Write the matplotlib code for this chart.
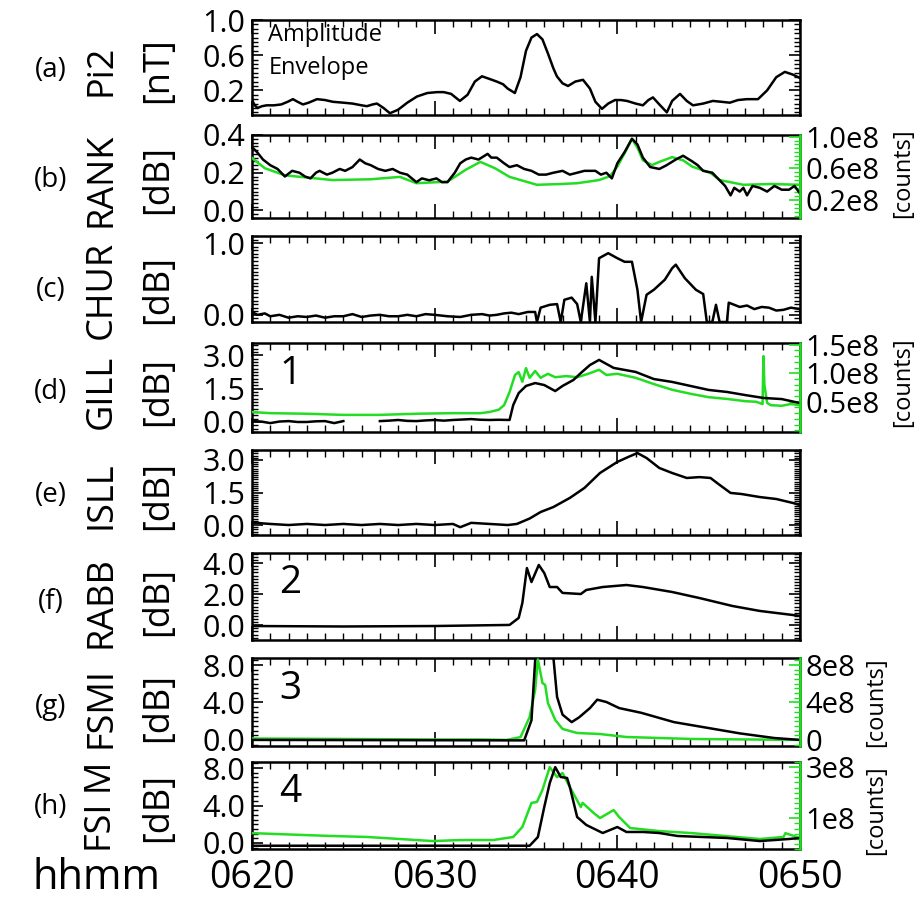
import numpy as np
import matplotlib
matplotlib.use("Agg")
from matplotlib import pyplot as plt
from matplotlib.ticker import FixedLocator, MultipleLocator, NullFormatter, FixedFormatter

plt.rcParams['font.family'] = ['Open Sans', 'DejaVu Sans']

GREEN = '#22dd22'

# time in minutes after 06:20
# (a) Pi2 amplitude envelope [nT]
a_t = [0, 0.15, 0.3, 0.55, 0.8, 1.2, 1.6, 1.95, 2.24, 2.5, 2.79, 3.1, 3.56, 4.0, 4.43, 5.0, 5.5,
       6.0, 6.29, 6.6, 6.84, 7.2, 7.55, 8.0, 8.5, 9.03, 9.6, 10.13, 10.5, 10.9, 11.38, 11.8, 12.2,
       12.59, 13.0, 13.4, 13.74, 14.0, 14.39, 14.7, 15.0, 15.3, 15.6, 15.9, 16.2, 16.5, 16.69, 17.0,
       17.3, 17.7, 18.12, 18.5, 18.8, 19.16, 19.5, 19.87, 20.2, 20.53, 21.0, 21.4, 21.7, 21.95, 22.3,
       22.71, 23.0, 23.43, 23.8, 24.14, 24.7, 25.23, 25.7, 26.16, 26.6, 27.09, 27.7, 28.2, 28.7,
       29.17, 29.6, 30]
a_v = [0.09, 0.03, 0.0, 0.02, 0.03, 0.03, 0.04, 0.07, 0.10, 0.07, 0.04, 0.06, 0.10, 0.09, 0.07,
       0.06, 0.05, 0.03, 0.02, 0.04, 0.05, 0.0, -0.06, -0.02, 0.06, 0.13, 0.17, 0.18, 0.18, 0.16,
       0.08, 0.15, 0.30, 0.36, 0.33, 0.30, 0.27, 0.22, 0.17, 0.35, 0.65, 0.80, 0.84, 0.78, 0.62,
       0.45, 0.36, 0.28, 0.25, 0.30, 0.32, 0.22, 0.07, -0.01, 0.05, 0.09, 0.09, 0.08, 0.05, 0.03,
       0.09, 0.12, 0.04, -0.05, 0.08, 0.16, 0.08, 0.03, 0.05, 0.08, 0.07, 0.06, 0.09, 0.10, 0.10,
       0.20, 0.35, 0.41, 0.38, 0.34]

# (b) RANK riometer [dB] and counts [1e8]
b_t = [0, 0.27, 0.6, 1.0, 1.4, 1.8, 2.2, 2.6, 2.9, 3.2, 3.5, 3.7, 4.1, 4.4, 4.8, 5.1, 5.5, 5.9,
       6.2, 6.5, 6.9, 7.3, 7.7, 8.1, 8.5, 9.0, 9.3, 9.7, 10.1, 10.4, 10.7, 11.1, 11.4, 11.7, 12.0,
       12.4, 12.9, 13.1, 13.4, 13.8, 14.1, 14.5, 14.9, 15.3, 15.7, 16.1, 16.5, 17.0, 17.4, 17.8,
       18.2, 18.8, 19.1, 19.4, 19.7, 20.0, 20.4, 20.8, 21.1, 21.4, 21.8, 22.3, 22.7, 23.2, 23.6,
       24.1, 24.4, 24.7, 25.2, 25.6, 25.9, 26.2, 26.4, 26.7, 26.9, 27.1, 27.4, 27.8, 28.2, 28.6,
       29.0, 29.4, 29.7, 30]
b_v = [0.336, 0.31, 0.27, 0.24, 0.22, 0.18, 0.21, 0.20, 0.18, 0.17, 0.20, 0.21, 0.19, 0.20, 0.22,
       0.21, 0.23, 0.27, 0.25, 0.24, 0.22, 0.21, 0.22, 0.20, 0.19, 0.15, 0.17, 0.16, 0.17, 0.15,
       0.15, 0.20, 0.25, 0.27, 0.28, 0.27, 0.30, 0.28, 0.28, 0.25, 0.23, 0.24, 0.22, 0.21, 0.19,
       0.19, 0.20, 0.21, 0.19, 0.20, 0.21, 0.21, 0.19, 0.20, 0.17, 0.25, 0.31, 0.38, 0.35, 0.28,
       0.23, 0.22, 0.24, 0.27, 0.29, 0.26, 0.24, 0.21, 0.20, 0.16, 0.13, 0.08, 0.12, 0.10, 0.12,
       0.08, 0.13, 0.12, 0.10, 0.13, 0.11, 0.11, 0.13, 0.09]
bg_t = [0, 0.7, 1.8, 4.4, 6.5, 8.1, 9.0, 10.7, 11.7, 12.5, 13.3, 14.1, 15.6, 16.9, 17.8, 19.0,
        19.6, 20.0, 20.4, 20.8, 21.1, 21.4, 21.9, 22.3, 23.0, 23.6, 24.1, 25.1, 25.6, 26.9, 28.4, 30]
bg_c = [0.73, 0.60, 0.51, 0.45, 0.46, 0.49, 0.41, 0.43, 0.58, 0.68, 0.60, 0.49, 0.39, 0.40, 0.41, 0.45,
        0.50, 0.62, 0.79, 0.97, 0.86, 0.70, 0.64, 0.68, 0.74, 0.70, 0.62, 0.54, 0.45, 0.39, 0.40, 0.39]

# (c) CHUR riometer [dB]
c_t = [0, 0.3, 0.7, 1.0, 1.5, 2.0, 2.5, 3.0, 3.5, 4.0, 4.5, 5.0, 5.5, 6.0, 6.5, 7.0, 7.5, 8.0, 8.5,
       9.0, 9.5, 10.0, 10.7, 11.4, 12.0, 12.6, 13.0, 13.4, 13.8, 14.2, 14.6, 15.1, 15.5, 15.6, 15.8,
       16.3, 16.7, 16.9, 17.1, 17.5, 17.8, 18.0, 18.3, 18.5, 18.6, 18.8, 19.0, 19.5, 20.0, 20.4,
       20.8, 21.1, 21.3, 21.6, 22.0, 22.6, 23.0, 23.2, 23.7, 24.3, 24.7, 24.9, 25.2, 25.4, 25.6,
       26.0, 26.1, 26.7, 27.1, 27.5, 27.9, 28.3, 28.7, 29.1, 29.5, 30]
c_v = [0.04, 0.00, 0.02, -0.02, 0.00, -0.04, -0.02, -0.03, -0.01, -0.04, -0.02, -0.02, 0.01, -0.03,
       -0.01, 0.00, -0.02, -0.02, 0.00, -0.02, 0.01, 0.00, -0.02, -0.03, 0.00, 0.01, -0.01, 0.00, 0.02,
       0.03, 0.01, 0.04, 0.04, -0.10, 0.10, 0.14, 0.15, -0.10, 0.21, 0.24, 0.15, -0.10, 0.44, -0.10,
       0.53, -0.10, 0.79, 0.86, 0.79, 0.74, 0.74, 0.35, -0.10, 0.28, 0.35, 0.49, 0.65, 0.70, 0.51,
       0.35, 0.29, -0.10, -0.10, 0.14, -0.10, -0.10, 0.17, 0.11, 0.13, 0.08, 0.11, 0.10, 0.06, 0.07,
       0.10, 0.08]

# (d) GILL riometer [dB] (data gap 0625-0627) and counts [1e8]
d_t = [0, 0.5, 1.0, 1.5, 2.0, 2.5, 3.0, 3.5, 4.0, 4.5, 5.0, 6.0, 7.0, 7.5, 8.0, 8.5, 9.0, 9.5, 10.0,
       10.5, 11.0, 11.5, 12.0, 12.5, 13.0, 13.5, 14.1, 14.3, 14.6, 15.0, 15.5, 16.0, 16.6, 17.0, 17.6,
       18.0, 18.5, 19.0, 19.4, 19.8, 20.4, 21.0, 22.0, 23.0, 24.0, 25.0, 26.0, 27.0, 28.0, 29.0, 30.0]
d_v = [0.04, 0.02, -0.05, 0.02, 0.04, 0.00, 0.00, 0.03, 0.04, -0.05, 0.04, np.nan, 0.04, 0.06, 0.09,
       0.05, 0.04, 0.07, 0.09, 0.06, 0.09, 0.11, 0.13, 0.10, 0.09, 0.10, 0.09, 0.76, 1.30, 1.62, 1.75,
       1.66, 1.39, 1.62, 1.89, 2.20, 2.56, 2.79, 2.61, 2.43, 2.34, 2.25, 1.93, 1.80, 1.62, 1.44, 1.35,
       1.21, 1.08, 1.03, 0.85]
dg_t = [0, 1.0, 3.0, 5.0, 7.0, 9.0, 11.0, 12.5, 13.0, 13.5, 13.8, 14.1, 14.4, 14.6, 14.8, 15.0, 15.2,
        15.5, 15.8, 16.2, 16.6, 17.2, 17.8, 18.4, 19.0, 19.4, 20.0, 21.0, 22.0, 23.0, 24.0, 25.0,
        26.0, 27.0, 27.6, 27.95, 28.0, 28.05, 28.2, 28.4, 29.0, 29.5, 30]
dg_c = [0.32, 0.30, 0.29, 0.27, 0.27, 0.29, 0.30, 0.30, 0.32, 0.36, 0.44, 0.67, 0.97, 1.02, 0.85,
        1.09, 0.92, 1.04, 0.92, 0.99, 0.93, 0.95, 0.93, 0.99, 1.06, 0.97, 0.99, 0.92, 0.81, 0.71,
        0.64, 0.58, 0.55, 0.51, 0.50, 0.46, 1.30, 0.80, 0.48, 0.44, 0.43, 0.46, 0.44]

# (e) ISLL riometer [dB]
e_t = [0, 0.5, 1.0, 2.0, 3.0, 4.0, 5.0, 6.0, 7.0, 8.0, 9.0, 10.0, 11.0, 11.4, 12.0, 13.0, 14.0,
       14.5, 15.2, 15.8, 16.5, 17.4, 18.2, 19.05, 20.0, 20.6, 21.1, 21.6, 22.3, 23.0, 23.8, 24.5,
       25.1, 25.6, 26.2, 26.8, 27.8, 28.7, 29.6, 30]
e_v = [0.14, 0.08, 0.05, 0.00, 0.05, 0.00, 0.05, 0.00, 0.05, 0.00, 0.05, 0.00, 0.05, -0.10, 0.10,
       0.05, 0.00, 0.05, 0.30, 0.60, 0.83, 1.25, 1.71, 2.40, 2.91, 3.14, 3.32, 3.09, 2.63, 2.40,
       2.17, 2.21, 2.17, 1.85, 1.48, 1.43, 1.29, 1.20, 1.02, 0.92]

# (f) RABB riometer [dB]
f_t = [0, 5.0, 10.0, 14.1, 14.6, 14.8, 15.05, 15.3, 15.7, 16.0, 16.3, 16.7, 17.0, 18.0, 18.3,
       19.2, 20.5, 21.4, 23.0, 24.5, 26.3, 27.8, 29.6, 30]
f_v = [-0.05, -0.08, -0.05, 0.02, 0.47, 1.43, 3.68, 2.78, 3.88, 3.36, 2.46, 2.46, 2.08, 2.01, 2.27,
       2.46, 2.59, 2.46, 2.14, 1.75, 1.24, 0.92, 0.66, 0.60]

# (g) FSMI riometer [dB] and counts [1e8]
g_t = [0, 14.9, 15.3, 15.5, 15.7, 16.0, 16.3, 16.5, 16.7, 17.0, 17.5, 17.9, 18.5, 18.9, 19.4,
       20.1, 21.3, 23.1, 24.9, 26.7, 28.6, 30]
g_v = [0.0, -0.05, 2.1, 8.5, 15.0, 18.0, 14.0, 8.8, 4.6, 2.7, 1.9, 2.4, 3.4, 4.3, 4.05, 3.4, 2.9,
       1.9, 1.3, 0.7, 0.2, 0.0]
gg_t = [0, 5.0, 10.0, 12.5, 13.95, 14.7, 15.2, 15.5, 15.65, 15.9, 16.05, 16.2, 16.6, 17.0, 17.8,
        19.05, 20.5, 24.1, 30]
gg_c = [0.15, 0.10, 0.05, 0.05, 0.0, 0.3, 2.45, 5.33, 8.6, 6.08, 5.87, 3.94, 2.13, 1.17, 0.74,
        0.63, 0.31, 0.10, 0.0]

# (h) FSIM riometer [dB] and counts [1e8]
h_t = [0, 15.2, 15.65, 16.0, 16.3, 16.6, 16.9, 17.25, 17.4, 17.8, 18.3, 19.2, 20.0, 20.5, 21.4,
       22.3, 23.3, 26.0, 27.8, 29.4, 30]
h_v = [-0.3, -0.3, 0.63, 3.84, 6.4, 8.1, 7.05, 6.94, 5.98, 2.77, 1.92, 1.06, 1.7, 1.17, 1.17, 1.06,
       0.74, 0.53, 0.20, 0.42, 0.53]
hg_t = [0, 2.7, 4.3, 6.3, 9.9, 11.4, 13.2, 14.3, 14.8, 15.3, 15.6, 15.9, 16.3, 16.7, 17.0, 17.4,
        18.0, 18.1, 18.7, 19.05, 19.8, 20.1, 20.7, 22.3, 24.1, 27.8, 29.1, 29.2, 30]
hg_c = [0.42, 0.35, 0.31, 0.27, 0.11, 0.15, 0.15, 0.27, 0.66, 1.60, 1.64, 2.11, 3.0, 2.61, 2.77,
        2.22, 1.44, 1.60, 1.21, 1.01, 1.32, 1.05, 0.62, 0.50, 0.42, 0.19, 0.27, 0.42, 0.23]

W, H = 923, 900
fig = plt.figure(figsize=(W / 100, H / 100), dpi=100)

panels = [
    # tag, name, unit, top px, bottom px, ylim, ticks, labels, minor, label row y
    ('(a)', 'Pi2', '[nT]', 20, 115, (-0.08, 1.0), [0.2, 0.6, 1.0], ['0.2', '0.6', '1.0'], 0.05, 70),
    ('(b)', 'RANK', '[dB]', 135, 218, (-0.04, 0.4), [0.0, 0.2, 0.4], ['0.0', '0.2', '0.4'], 0.02, 180),
    ('(c)', 'CHUR', '[dB]', 236, 322, (-0.1, 1.1), [0.0, 1.0], ['0.0', '1.0'], 0.05, 290),
    ('(d)', 'GILL', '[dB]', 343, 432, (-0.45, 3.55), [0.0, 1.5, 3.0], ['0.0', '1.5', '3.0'], 0.15, 392),
    ('(e)', 'ISLL', '[dB]', 450, 535, (-0.46, 3.46), [0.0, 1.5, 3.0], ['0.0', '1.5', '3.0'], 0.1, 495),
    ('(f)', 'RABB', '[dB]', 553, 640, (-0.95, 4.65), [0.0, 2.0, 4.0], ['0.0', '2.0', '4.0'], 0.2, 602),
    ('(g)', 'FSMI', '[dB]', 658, 746, (-0.65, 8.75), [0.0, 4.0, 8.0], ['0.0', '4.0', '8.0'], 0.5, 707),
    ('(h)', 'FSI M', '[dB]', 762, 849, (-0.65, 8.65), [0.0, 4.0, 8.0], ['0.0', '4.0', '8.0'], 0.5, 807),
]

black = [(a_t, a_v), (b_t, b_v), (c_t, c_v), (d_t, d_v), (e_t, e_v), (f_t, f_v), (g_t, g_v), (h_t, h_v)]
greens = {
    1: (bg_t, bg_c, (-0.03, 1.02), [0.2, 0.6, 1.0], ['0.2e8', '0.6e8', '1.0e8'], 0.05, 903, 173),
    3: (dg_t, dg_c, (-0.03, 1.53), [0.5, 1.0, 1.5], ['0.5e8', '1.0e8', '1.5e8'], 0.1, 903, 382),
    6: (gg_t, gg_c, (-0.65, 8.75), [0.0, 4.0, 8.0], ['0', '4e8', '8e8'], 0.5, 876, 702),
    7: (hg_t, hg_c, (-0.2, 3.2), [1.0, 3.0], ['1e8', '3e8'], 0.2, 876, 810),
}
numbers = {3: '1', 5: '2', 6: '3', 7: '4'}

for i, (tag, name, unit, top, bot, ylim, ticks, labels, minor, yc) in enumerate(panels):
    ax = fig.add_axes([252 / W, 1 - bot / H, 548 / W, (bot - top) / H])
    t, v = black[i]
    ax.set_xlim(0, 30)
    ax.set_ylim(*ylim)
    for s in ax.spines.values():
        s.set_linewidth(1.8)
    ax.xaxis.set_major_locator(FixedLocator([0, 10, 20, 30]))
    ax.xaxis.set_minor_locator(MultipleLocator(1))
    ax.yaxis.set_major_locator(FixedLocator(ticks))
    ax.yaxis.set_major_formatter(FixedFormatter(labels))
    ax.yaxis.set_minor_locator(MultipleLocator(minor))
    ax.tick_params(axis='both', which='both', direction='in', top=True, right=(i not in greens))
    ax.tick_params(axis='x', which='major', length=10, width=1.2)
    ax.tick_params(axis='x', which='minor', length=5, width=1.0)
    ax.tick_params(axis='y', which='major', length=8, width=1.2, labelsize=22, pad=5)
    ax.tick_params(axis='y', which='minor', length=4, width=1.0)
    if i == len(panels) - 1:
        ax.set_xticklabels(['0620', '0630', '0640', '0650'])
        ax.tick_params(axis='x', which='major', labelsize=27, pad=7)
    else:
        ax.xaxis.set_major_formatter(NullFormatter())

    if i in greens:
        gt, gc, gl, gticks, glabels, gminor, lx, ly = greens[i]
        ax2 = ax.twinx()
        ax2.set_ylim(*gl)
        ax2.plot(gt, gc, color=GREEN, lw=1.8, clip_on=True)
        ax2.yaxis.set_major_locator(FixedLocator(gticks))
        ax2.yaxis.set_major_formatter(FixedFormatter(glabels))
        ax2.yaxis.set_minor_locator(MultipleLocator(gminor))
        ax2.tick_params(axis='y', which='both', direction='in', color=GREEN)
        ax2.tick_params(axis='y', which='major', length=8, width=1.2, labelsize=21, pad=4)
        ax2.tick_params(axis='y', which='minor', length=4, width=1.0)
        for s in ax2.spines.values():
            s.set_visible(False)
        ax2.spines['right'].set_visible(True)
        ax2.spines['right'].set_color(GREEN)
        ax2.spines['right'].set_linewidth(1.8)
        fig.text(lx / W, 1 - ly / H, '[counts]', rotation=90, ha='center', va='center', fontsize=17)
        ax2.plot(t, v, color='black', lw=1.8, transform=ax.transData, clip_on=True)
        ax2.set_zorder(ax.get_zorder() + 1)
    else:
        ax.plot(t, v, color='black', lw=1.8)

    if i in numbers:
        ax.text(0.05, 0.65, numbers[i], transform=ax.transAxes, ha='left', va='center', fontsize=28)

    fig.text(51 / W, 1 - yc / H, tag, ha='center', va='center', fontsize=20)
    fig.text(102 / W, 1 - yc / H, name, rotation=90, ha='center', va='center', fontsize=26)
    fig.text(158 / W, 1 - yc / H, unit, rotation=90, ha='center', va='center', fontsize=26)

    if i == 0:
        ax.text(0.03, 0.84, 'Amplitude', transform=ax.transAxes, fontsize=17, va='center')
        ax.text(0.03, 0.49, 'Envelope', transform=ax.transAxes, fontsize=17, va='center')

fig.text(97 / W, 1 - 878 / H, 'hhmm', ha='center', va='center', fontsize=30)

fig.savefig('out.png', dpi=100)
